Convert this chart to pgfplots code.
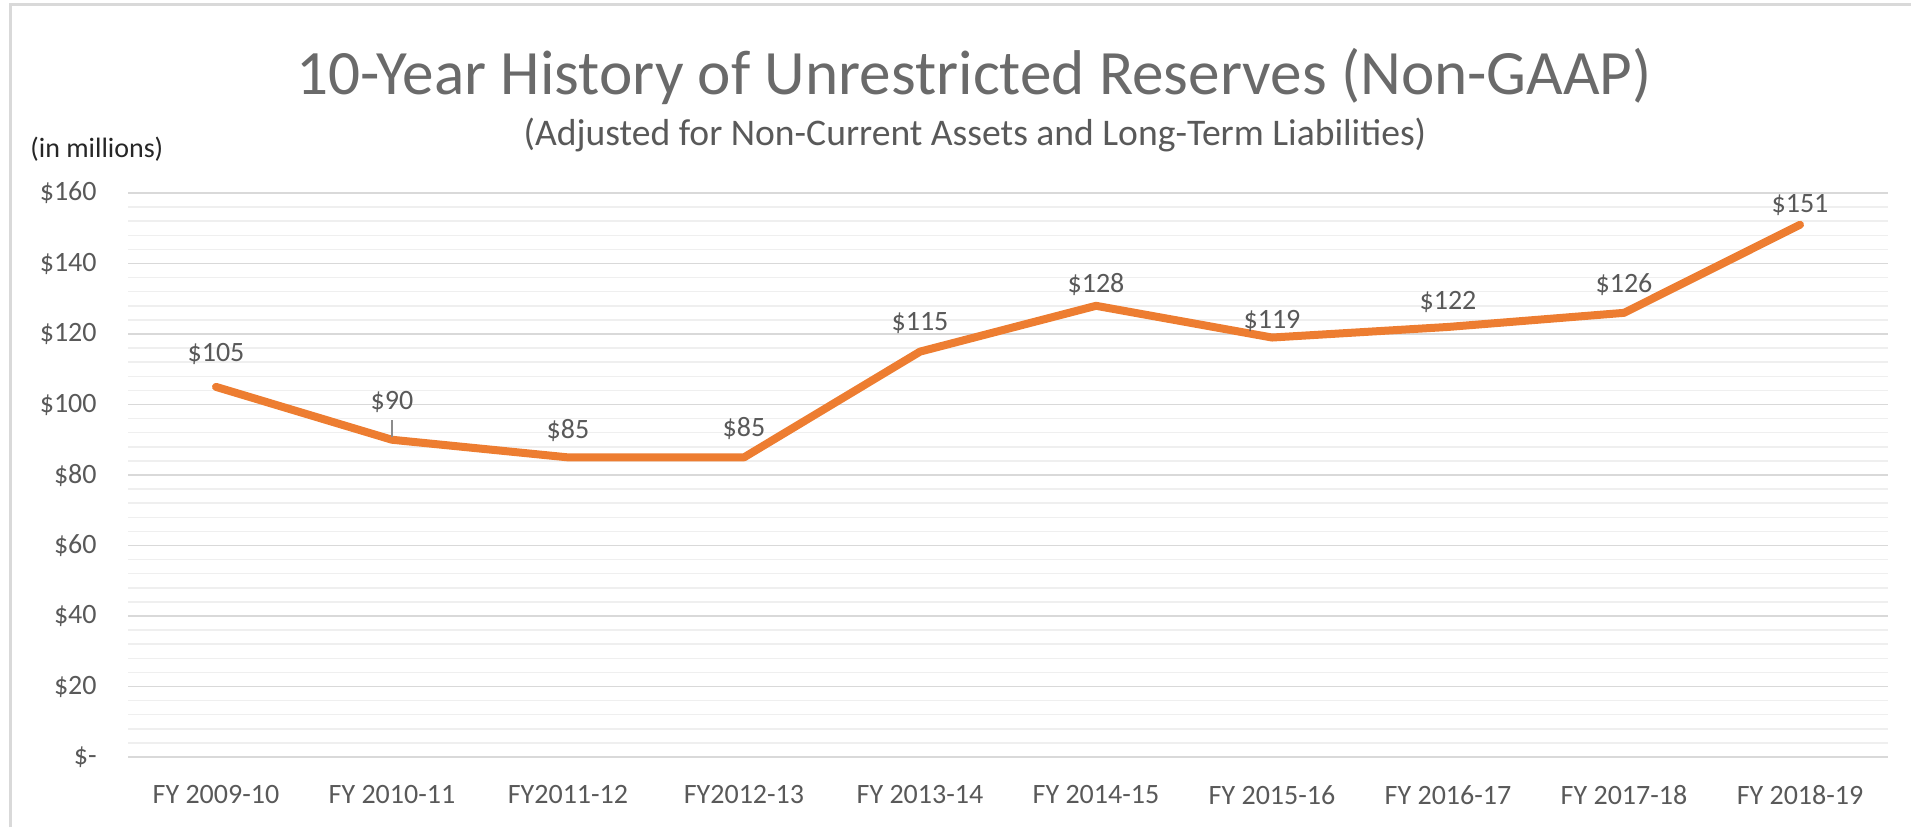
\documentclass[border=0pt]{standalone}
\usepackage{pgfplots}
\usepackage{pgfplotstable}
\pgfplotsset{compat=1.18}
\usepackage{fontspec}
\setmainfont{Carlito}
\definecolor{txt}{HTML}{595959}
\definecolor{orng}{HTML}{ED7D31}
\definecolor{majg}{HTML}{D9D9D9}
\definecolor{ming}{HTML}{EFEFEF}
\definecolor{frm}{HTML}{D9D9D9}

\pgfplotstableread{
x y lab dy
0 105 105 12.5
1 90 90 15
2 85 85 9.5
3 85 85 10.5
4 115 115 10.5
5 128 128 6.5
6 119 119 4.75
7 122 122 8.5
8 126 126 10
9 151 151 6
}\datatable

\begin{document}
\begin{tikzpicture}
\path[use as bounding box] (0pt,0pt) rectangle (955.5pt,413.5pt);
\draw[frm, line width=1.5pt] (5pt,0pt) -- (5pt,411pt) -- (955.5pt,411pt);
\node[anchor=base, inner sep=0pt, font=\fontsize{31.6}{35}\selectfont, text=txt!90] at (487pt,366.5pt) {10-Year History of Unrestricted Reserves (Non-GAAP)};
\node[anchor=base, inner sep=0pt, font=\fontsize{18.8}{22}\selectfont, text=txt] at (487.5pt,341pt) {(Adjusted for Non-Current Assets and Long-Term Liabilities)};
\node[anchor=base west, inner sep=0pt, font=\fontsize{14}{16}\selectfont, text=black!85] at (15pt,335pt) {(in millions)};
\begin{axis}[
  at={(64pt,35pt)}, anchor=south west,
  scale only axis, width=880pt, height=282pt,
  xmin=-0.5, xmax=9.5, ymin=0, ymax=160,
  axis line style={draw=none},
  major tick length=0pt, minor tick length=0pt,
  xtick={0,...,9},
  xticklabels={FY 2009-10, FY 2010-11, FY2011-12, FY2012-13, FY 2013-14, FY 2014-15, FY 2015-16, FY 2016-17, FY 2017-18, FY 2018-19},
  ytick={0,20,...,160},
  yticklabels={\$-\hspace{7pt}, \$20, \$40, \$60, \$80, \$100, \$120, \$140, \$160},
  minor y tick num=4,
  ymajorgrids, yminorgrids,
  major grid style={majg, line width=0.75pt},
  minor grid style={ming, line width=0.75pt},
  tick label style={font=\fontsize{14}{16}\selectfont, text=txt, inner sep=0pt},
  yticklabel style={anchor=east},
  xticklabel style={anchor=north},
  yticklabel shift=15.5pt,
  xticklabel shift=14pt,
  clip=false,
]
\addplot[orng, line width=4pt, line join=round, line cap=round,
  point meta=explicit symbolic,
  visualization depends on={\thisrow{dy} \as \dy},
  nodes near coords={\$\pgfplotspointmeta},
  every node near coord/.append style={anchor=base, inner sep=0pt, yshift=\dy pt, font=\fontsize{14}{16}\selectfont, text=txt},
] table[x=x, y=y, meta=lab] {\datatable};
\addplot[black!45, line width=0.6pt] coordinates {(1,90.8) (1,95.6)};
\end{axis}
\end{tikzpicture}
\end{document}
